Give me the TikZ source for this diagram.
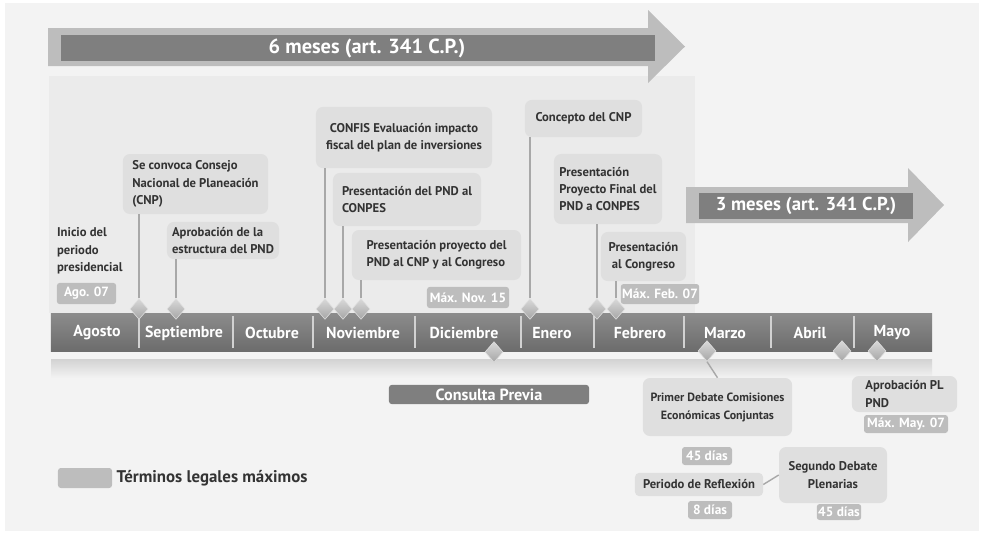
\documentclass[tikz,border=0pt]{standalone}
\usepackage{fontspec}
\setmainfont{PT Sans}
\usepackage{tikz}
\usetikzlibrary{shapes.geometric, positioning}
\definecolor{fondo}{HTML}{F3F3F3}
\definecolor{zona}{HTML}{EBEBEB}
\definecolor{cajagris}{HTML}{DFDFDF}
\definecolor{plazogris}{HTML}{BDBDBD}
\definecolor{barragris}{HTML}{7F7F7F}
\definecolor{textogris}{HTML}{333333}
\definecolor{lineagris}{HTML}{A8A8A8}

\begin{document}
\begin{tikzpicture}[x=0.025cm, y=-0.025cm,
    evento/.style={fill=cajagris, rounded corners=5pt, inner sep=2pt, text=textogris, font=\fontsize{9}{12.4}\selectfont\bfseries},
    plazo/.style={fill=plazogris, rounded corners=2pt, inner sep=1pt, text=white, font=\fontsize{9.5}{11}\selectfont\bfseries},
    mes/.style={text=white, font=\fontsize{11.3}{14}\selectfont\bfseries},
    rombo/.style={diamond, shade, top color=gray!30, bottom color=gray!70, draw=white!75!gray, line width=0.4pt, minimum width=0.45cm, minimum height=0.52cm, inner sep=0pt},
    conector/.style={draw=lineagris, line width=1pt}]
    % fondo
    \useasboundingbox (0,0) rectangle (984,535);
    \fill[white] (0,0) rectangle (984,535);
    \fill[fondo] (5,3) rectangle (979,531);
    \fill[zona] (49,76) rectangle (695,313);

    % flechas de plazo
    \fill[plazogris] (48,28) -- (648,28) -- (648,10) -- (685,46.5) -- (648,83) -- (648,66) -- (48,66) -- cycle;
    \node[fill=barragris, minimum width=14.85cm, minimum height=0.65cm] (seis) at (358,48) {};
    \node[text=white, font=\fontsize{14.5}{17}\selectfont\bfseries] (seistexto) at (367,48) {6 meses (art. 341 C.P.)};
    \fill[plazogris] (686,187) -- (908,187) -- (908,168) -- (944,205) -- (908,242) -- (908,223) -- (686,223) -- cycle;
    \node[fill=barragris, minimum width=5.35cm, minimum height=0.65cm, text=white, font=\fontsize{13.3}{16}\selectfont\bfseries] (tres) at (806,206) {3 meses (art. 341 C.P.)};

    % barra de meses
    \shade[top color=gray!35, bottom color=fondo] (51,359) rectangle (932,378);
    \node[shade, top color=gray!90!white, bottom color=barragris!85!black, minimum width=22.03cm, minimum height=0.95cm, inner sep=0pt] (barra) at (491.5,332) {};
    \draw[white!65!gray, line width=0.8pt] (139,316) -- (139,348) (233,316) -- (233,348) (313,316) -- (313,348)
        (415,316) -- (415,348) (521,316) -- (521,348) (594,316) -- (594,348) (684,316) -- (684,348)
        (771,316) -- (771,348) (854,316) -- (854,348);
    \node[mes] (agosto) at (97,333) {Agosto};
    \node[mes] (septiembre) at (184,333) {Septiembre};
    \node[mes] (octubre) at (272,333) {Octubre};
    \node[mes] (noviembre) at (363,333) {Noviembre};
    \node[mes] (diciembre) at (464,333) {Diciembre};
    \node[mes] (enero) at (552,333) {Enero};
    \node[mes] (febrero) at (640,333) {Febrero};
    \node[mes] (marzo) at (725,333) {Marzo};
    \node[mes] (abril) at (810,333) {Abril};
    \node[mes] (mayo) at (892,333) {Mayo};

    % eventos arriba
    \node[font=\fontsize{9}{12.4}\selectfont\bfseries, text=textogris, align=left, anchor=west, inner sep=2pt] (inicio) at (54,251) {Inicio del\\periodo\\presidencial};
    \node[plazo, minimum width=1.48cm, minimum height=0.53cm] (ago) at (86.5,293.5) {Ago. 07};
    \node[evento, align=left, minimum width=3.63cm, minimum height=1.5cm] (cnp) at (195.5,184) {Se convoca Consejo\\Nacional de Planeación\\(CNP)};
    \node[evento, align=left, minimum width=2.8cm, minimum height=0.93cm] (estructura) at (223,240.5) {Aprobación de la\\estructura del PND};
    \node[evento, align=center, minimum width=4.4cm, minimum height=1.53cm] (confis) at (404,137.5) {CONFIS Evaluación impacto\\fiscal del plan de inversiones};
    \node[evento, align=left, minimum width=3.7cm, minimum height=1.33cm] (conpes) at (407,199.5) {Presentación del PND al\\CONPES};
    \node[evento, align=left, minimum width=4.23cm, minimum height=1.25cm] (proyecto) at (436.5,255) {Presentación proyecto del\\PND al CNP y al Congreso};
    \node[plazo, minimum width=2.05cm, minimum height=0.53cm] (novmax) at (468,297.5) {Máx. Nov. 15};
    \node[evento, align=left, minimum width=2.93cm, minimum height=0.93cm] (concepto) at (583.5,118.5) {Concepto del CNP};
    \node[evento, align=left, minimum width=2.7cm, minimum height=1.75cm] (final) at (608,189) {Presentación\\Proyecto Final del\\PND a CONPES};
    \node[evento, align=center, minimum width=2.13cm, minimum height=1.23cm] (congreso) at (643.5,256.5) {Presentación\\al Congreso};
    \node[plazo, minimum width=1.9cm, minimum height=0.5cm] (febmax) at (660,294) {Máx. Feb. 07};

    % rombos sobre la barra
    \node[rombo] (rcnp) at (139,309) {};
    \node[rombo] (restructura) at (176,309) {};
    \node[rombo] (rconfis) at (325,309) {};
    \node[rombo] (rconpes) at (343,309) {};
    \node[rombo] (rproyecto) at (361,309) {};
    \node[rombo] (rconcepto) at (530,309) {};
    \node[rombo] (rfinal) at (597,309) {};
    \node[rombo] (rcongreso) at (616,309) {};
    \node[rombo] (rconsulta) at (494,352) {};
    \node[rombo] (rprimer) at (707,351) {};
    \node[rombo] (rabril) at (842,351) {};
    \node[rombo] (rmayo) at (877,351) {};

    % conectores
    \draw[conector] (rcnp.north) -- (rcnp.north |- cnp.south);
    \draw[conector] (restructura.north) -- (restructura.north |- estructura.south);
    \draw[conector] (rconfis.north) -- (rconfis.north |- confis.south);
    \draw[conector] (rconpes.north) -- (rconpes.north |- conpes.south);
    \draw[conector] (rproyecto.north) -- (rproyecto.north |- proyecto.south);
    \draw[conector] (rconcepto.north) -- (rconcepto.north |- concepto.south);
    \draw[conector] (rfinal.north) -- (rfinal.north |- final.south);
    \draw[conector] (rcongreso.north) -- (rcongreso.north |- congreso.south);

    % eventos abajo
    \node[fill=barragris, rounded corners=2pt, minimum width=5cm, minimum height=0.48cm, inner sep=0pt, text=white, font=\fontsize{11.5}{13}\selectfont\bfseries] (consulta) at (489,394.5) {Consulta Previa};
    \node[evento, align=center, minimum width=3.73cm, minimum height=1.45cm, font=\fontsize{8.5}{12.8}\selectfont\bfseries] (primer) at (717.5,407) {Primer Debate Comisiones\\Económicas Conjuntas};
    \draw[conector] (rprimer.south) -- (primer.north);
    \node[plazo, minimum width=1.25cm, minimum height=0.45cm] (dias45a) at (707,456) {45 días};
    \node[evento, align=center, minimum width=3.2cm, minimum height=0.58cm, rounded corners=3pt] (reflexion) at (699,484.5) {Periodo de Reflexión};
    \node[plazo, minimum width=1.1cm, minimum height=0.45cm] (dias8) at (710,510) {8 días};
    \node[evento, align=center, minimum width=2.7cm, minimum height=1.4cm] (segundo) at (833,475) {Segundo Debate\\Plenarias};
    \draw[conector] (reflexion.east) -- (segundo.west);
    \node[plazo, minimum width=1.1cm, minimum height=0.4cm] (dias45b) at (839,512) {45 días};
    \node[evento, align=left, minimum width=2.63cm, minimum height=0.9cm] (plpnd) at (904.5,394) {Aprobación PL\\PND};
    \node[plazo, minimum width=2.1cm, minimum height=0.45cm] (maymax) at (906,424) {Máx. May. 07};

    % leyenda
    \node[fill=plazogris, rounded corners=2pt, minimum width=1.35cm, minimum height=0.5cm, inner sep=0pt] (muestra) at (85,478) {};
    \node[right=0.1cm of muestra, inner sep=0pt, text=textogris, font=\fontsize{12}{15}\selectfont\bfseries] (leyenda) {Términos legales máximos};
\end{tikzpicture}
\end{document}
